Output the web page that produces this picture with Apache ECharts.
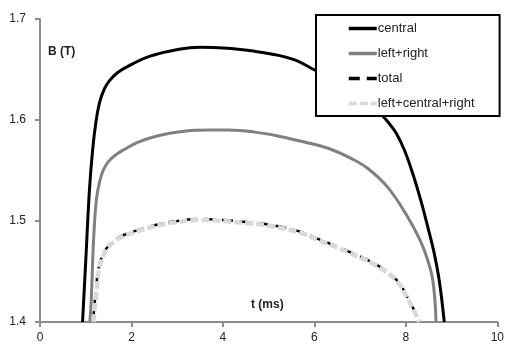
<!DOCTYPE html>
<html>
<head>
<meta charset="utf-8">
<script src="https://cdn.jsdelivr.net/npm/echarts@6/dist/echarts.min.js"></script>
<style>
  html, body { margin: 0; padding: 0; background: #fff; }
  #chart { width: 507px; height: 344px; }
</style>
</head>
<body>
<div id="chart"></div>
<script>
"use strict";

var seriesNames = ["central", "left+right", "total", "left+central+right"];
var xTicks = [0, 2, 4, 6, 8, 10];
var yTicks = [1.4, 1.5, 1.6, 1.7];

// [t (ms), B (T)]
var central = [
  [0.93, 1.4], [1.0, 1.46], [1.08, 1.53], [1.15, 1.57], [1.22, 1.597],
  [1.3, 1.617], [1.41, 1.631], [1.52, 1.639], [1.7, 1.647], [1.96, 1.654],
  [2.39, 1.663], [3.04, 1.67], [3.5, 1.672], [4.1, 1.671], [4.7, 1.668],
  [5.22, 1.664], [5.6, 1.659], [5.94, 1.651], [6.5, 1.638], [7.0, 1.624],
  [7.3, 1.613], [7.61, 1.598], [7.79, 1.587], [7.97, 1.57], [8.15, 1.547],
  [8.33, 1.52], [8.48, 1.494], [8.62, 1.468], [8.73, 1.441], [8.84, 1.4]
];
var leftRight = [
  [1.09, 1.4], [1.12, 1.421], [1.17, 1.48], [1.23, 1.52], [1.3, 1.538],
  [1.38, 1.55], [1.5, 1.559], [1.67, 1.566], [1.85, 1.571], [2.1, 1.577],
  [2.46, 1.583], [3.19, 1.589], [3.7, 1.59], [4.13, 1.59], [4.7, 1.588],
  [5.22, 1.584], [5.8, 1.578], [6.3, 1.572], [6.8, 1.562], [7.17, 1.552],
  [7.61, 1.533], [8.04, 1.504], [8.3, 1.482], [8.45, 1.465], [8.59, 1.441],
  [8.66, 1.4]
];
var total = [
  [1.16, 1.4], [1.19, 1.416], [1.22, 1.43], [1.29, 1.455], [1.44, 1.472],
  [1.7, 1.483], [2.07, 1.49], [2.61, 1.497], [3.0, 1.5], [3.5, 1.502],
  [4.0, 1.501], [4.5, 1.499], [4.93, 1.497], [5.65, 1.49], [6.09, 1.482],
  [6.74, 1.47], [7.46, 1.454], [7.83, 1.44], [8.04, 1.424], [8.19, 1.411],
  [8.3, 1.4]
];
var leftCentralRight = [
  [1.17, 1.4], [1.2, 1.415], [1.23, 1.428], [1.3, 1.454], [1.45, 1.471],
  [1.7, 1.482], [2.07, 1.489], [2.61, 1.496], [3.0, 1.499], [3.5, 1.501],
  [4.0, 1.5], [4.5, 1.498], [4.93, 1.496], [5.65, 1.489], [6.09, 1.481],
  [6.74, 1.469], [7.46, 1.453], [7.83, 1.439], [8.04, 1.423], [8.19, 1.41],
  [8.3, 1.4]
];

var font = "'Liberation Sans', Arial, sans-serif";
var axisColor = "#8c8c8c";

function lineSeries(name, data, color, width, type, z) {
  return {
    name: name,
    type: "line",
    data: data,
    smooth: 0.4,
    symbol: "none",
    showSymbol: false,
    z: z,
    lineStyle: { color: color, width: width, type: type },
    itemStyle: { color: color },
  };
}

var chart = echarts.init(document.getElementById("chart"), null, { renderer: "canvas" });

chart.setOption({
  animation: false,
  backgroundColor: "#fff",
  grid: { left: 40, right: 7, top: 19, bottom: 22, containLabel: false },
  xAxis: {
    type: "value",
    min: xTicks[0],
    max: xTicks[xTicks.length - 1],
    interval: 2,
    axisLine: { lineStyle: { color: axisColor, width: 2 } },
    axisTick: { show: true, length: 5, lineStyle: { color: axisColor, width: 2 } },
    axisLabel: { color: "#222", fontSize: 12, fontFamily: font, margin: 10 },
    splitLine: { show: false },
  },
  yAxis: {
    type: "value",
    min: yTicks[0],
    max: yTicks[yTicks.length - 1],
    interval: 0.1,
    axisLine: { show: true, lineStyle: { color: axisColor, width: 2 } },
    axisTick: { show: true, length: 5, lineStyle: { color: axisColor, width: 2 } },
    axisLabel: {
      color: "#222", fontSize: 12, fontFamily: font, margin: 14,
      formatter: function (v) { return v.toFixed(1); },
    },
    splitLine: { show: false },
  },
  legend: {
    orient: "vertical",
    left: 316,
    top: 15,
    data: seriesNames,
    backgroundColor: "#fff",
    borderColor: "#000",
    borderWidth: 2,
    borderRadius: 0,
    padding: [7, 25, 6, 31],
    itemWidth: 28,
    itemHeight: 14,
    itemGap: 12,
    itemStyle: { opacity: 0 },
    lineStyle: { width: 3.5 },
    textStyle: { color: "#222", fontSize: 13, fontFamily: font, padding: [0, 0, 0, -4] },
  },
  graphic: [
    {
      type: "text", left: 48, top: 46,
      style: { text: "B (T)", font: "bold 12px " + font, fill: "#222" },
    },
    {
      type: "text", left: 251, top: 299,
      style: { text: "t (ms)", font: "bold 12px " + font, fill: "#222" },
    },
  ],
  series: [
    lineSeries(seriesNames[0], central, "#000", 3, "solid", 2),
    lineSeries(seriesNames[1], leftRight, "#808080", 3, "solid", 3),
    lineSeries(seriesNames[2], total, "#000", 2.5, [11, 7], 4),
    lineSeries(seriesNames[3], leftCentralRight, "#d9d9d9", 4.5, [8, 3], 5),
  ],
});
</script>
</body>
</html>
